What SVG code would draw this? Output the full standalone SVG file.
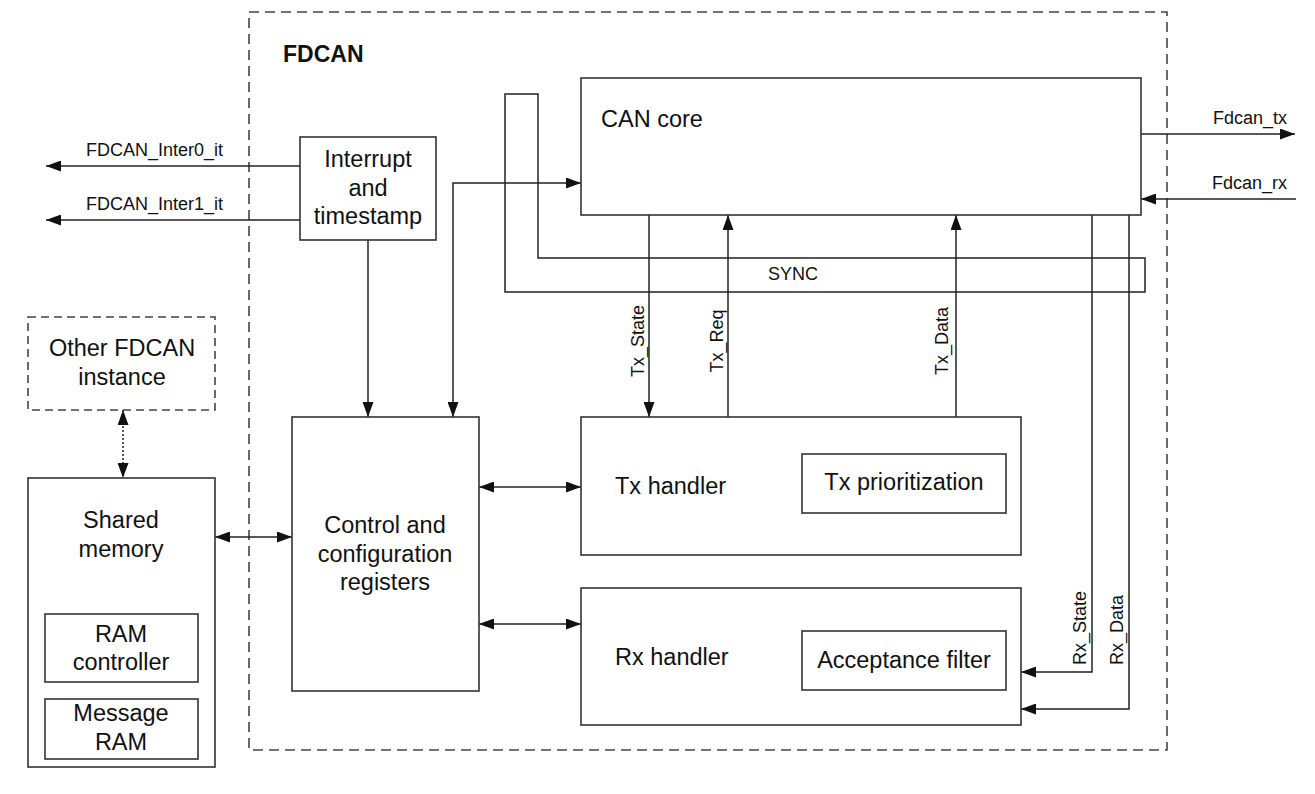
<svg xmlns="http://www.w3.org/2000/svg" width="1315" height="794" viewBox="0 0 1315 794">
<style>
.box{fill:#fff;stroke:#333;stroke-width:1.6}
.dash{fill:none;stroke:#444;stroke-width:1.6;stroke-dasharray:10,6}
.t{font-family:"Liberation Sans",Arial,sans-serif;font-size:23.5px;fill:#111}
.c{text-anchor:middle}
.l{font-family:"Liberation Sans",Arial,sans-serif;font-size:18px;fill:#111}
.w{fill:none;stroke:#222;stroke-width:1.5}
</style>
<defs>
<marker id="ah" viewBox="0 0 15 11" refX="15" refY="5.5" markerWidth="15" markerHeight="11" markerUnits="userSpaceOnUse" orient="auto-start-reverse">
<path d="M0,0 L15,5.5 L0,11 z" fill="#111"/>
</marker>
</defs>
<rect x="249" y="12" width="918" height="738" class="dash"/>
<text x="283" y="62" class="t" style="font-weight:bold;font-size:23px">FDCAN</text>

<g id="sync">
<path d="M505,94 H538 V258 H1145 V292 H505 Z" class="w" stroke="#333"/>
<text x="793" y="280" class="l c">SYNC</text>
</g>

<g id="connectors">
<path d="M300,166 H46" class="w" marker-end="url(#ah)"/>
<path d="M300,220 H46" class="w" marker-end="url(#ah)"/>
<path d="M368,240 V417" class="w" marker-end="url(#ah)"/>
<path d="M453,417 V183 H581" class="w" marker-start="url(#ah)" marker-end="url(#ah)"/>
<path d="M1141,134 H1295" class="w" marker-end="url(#ah)"/>
<path d="M1296,199 H1141" class="w" marker-end="url(#ah)"/>
<path d="M649,215 V417" class="w" marker-end="url(#ah)"/>
<path d="M728,417 V215" class="w" marker-end="url(#ah)"/>
<path d="M956,417 V215" class="w" marker-end="url(#ah)"/>
<path d="M1092,215 V672 H1021" class="w" marker-end="url(#ah)"/>
<path d="M1129,215 V709 H1021" class="w" marker-end="url(#ah)"/>
<path d="M479,487 H581" class="w" marker-start="url(#ah)" marker-end="url(#ah)"/>
<path d="M479,624 H581" class="w" marker-start="url(#ah)" marker-end="url(#ah)"/>
<path d="M215,537 H292" class="w" marker-start="url(#ah)" marker-end="url(#ah)"/>
<path d="M123,410 V478" class="w" stroke-dasharray="2,2" marker-start="url(#ah)" marker-end="url(#ah)"/>
<text x="86" y="156" class="l">FDCAN_Inter0_it</text>
<text x="86" y="210" class="l">FDCAN_Inter1_it</text>
<text x="1287" y="124" class="l" text-anchor="end">Fdcan_tx</text>
<text x="1287" y="189" class="l" text-anchor="end">Fdcan_rx</text>
<text transform="translate(644,341) rotate(-90)" class="l c">Tx_State</text>
<text transform="translate(723,341) rotate(-90)" class="l c">Tx_Req</text>
<text transform="translate(948,341) rotate(-90)" class="l c">Tx_Data</text>
<text transform="translate(1086,628) rotate(-90)" class="l c">Rx_State</text>
<text transform="translate(1123,630) rotate(-90)" class="l c">Rx_Data</text>
</g>

<g id="can-core">
<rect x="581" y="78" width="560" height="137" class="box"/>
<text x="601" y="127" class="t">CAN core</text>
</g>

<g id="interrupt">
<rect x="300" y="137" width="136" height="103" class="box"/>
<text x="368" y="167" class="t c">Interrupt</text>
<text x="368" y="196" class="t c">and</text>
<text x="368" y="224" class="t c">timestamp</text>
</g>

<g id="other-fdcan">
<rect x="28" y="317" width="187" height="93" class="dash" style="stroke-dasharray:8,5"/>
<text x="122" y="356" class="t c">Other FDCAN</text>
<text x="122" y="385" class="t c">instance</text>
</g>

<g id="shared-memory">
<rect x="28" y="478" width="187" height="289" class="box"/>
<text x="121" y="528" class="t c">Shared</text>
<text x="121" y="557" class="t c">memory</text>
</g>

<g id="ram-controller">
<rect x="45" y="614" width="153" height="68" class="box"/>
<text x="121" y="642" class="t c">RAM</text>
<text x="121" y="670" class="t c">controller</text>
</g>

<g id="message-ram">
<rect x="45" y="699" width="153" height="60" class="box"/>
<text x="121" y="721" class="t c">Message</text>
<text x="121" y="750" class="t c">RAM</text>
</g>

<g id="control">
<rect x="292" y="417" width="187" height="274" class="box"/>
<text x="385" y="533" class="t c">Control and</text>
<text x="385" y="562" class="t c">configuration</text>
<text x="385" y="590" class="t c">registers</text>
</g>

<g id="tx-handler">
<rect x="581" y="417" width="440" height="138" class="box"/>
<text x="615" y="494" class="t">Tx handler</text>
</g>

<g id="tx-prio">
<rect x="802" y="454" width="204" height="59" class="box"/>
<text x="904" y="490" class="t c">Tx prioritization</text>
</g>

<g id="rx-handler">
<rect x="581" y="588" width="440" height="137" class="box"/>
<text x="615" y="665" class="t">Rx handler</text>
</g>

<g id="acceptance-filter">
<rect x="802" y="631" width="204" height="59" class="box"/>
<text x="904" y="668" class="t c">Acceptance filter</text>
</g>
</svg>
